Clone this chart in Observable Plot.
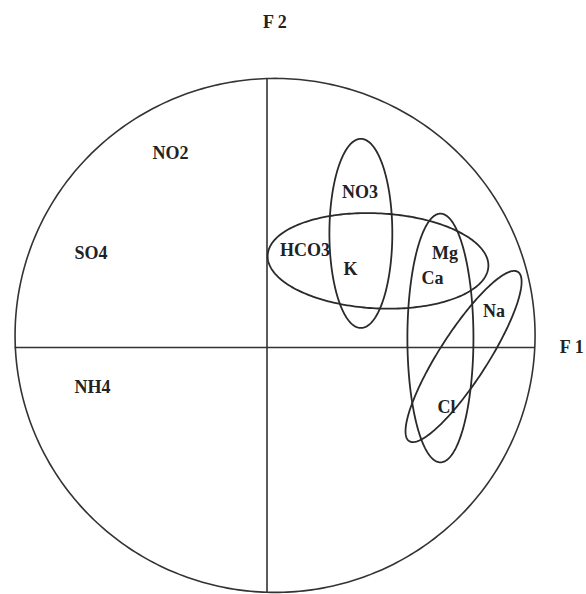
<!DOCTYPE html>
<html>
<head>
<meta charset="utf-8">
<script src="https://cdn.jsdelivr.net/npm/d3@7"></script>
<script src="https://cdn.jsdelivr.net/npm/@observablehq/plot@0.6"></script>
<style>
  html, body { margin: 0; padding: 0; background: #fff; }
</style>
</head>
<body>
<div id="chart"></div>
<script>
// Variable labels and their positions on the F1 / F2 plane (correlation circle units)
const labels = ["NO2", "SO4", "NH4", "NO3", "HCO3", "K", "Mg", "Ca", "Na", "Cl"];
const f1 = [-0.371, -0.677, -0.671, 0.358, 0.146, 0.321, 0.685, 0.637, 0.873, 0.690];
const f2 = [0.755, 0.366, -0.156, 0.603, 0.377, 0.304, 0.366, 0.268, 0.140, -0.233];

// Groupings drawn as ellipses: centre, semi-axes, rotation (degrees)
const groupNames = ["NO3-K", "HCO3-K-Mg-Ca", "Mg-Ca-Cl", "Na-Cl"];
const groupCx = [0.361, 0.427, 0.667, 0.756];
const groupCy = [0.444, 0.337, 0.037, -0.035];
const groupRa = [0.121, 0.425, 0.127, 0.390];
const groupRb = [0.368, 0.185, 0.484, 0.093];
const groupAngle = [0, -3, 0, 57.6];

// Correlation circle (scan is slightly off-centre from the axes)
const circleCx = 0.031, circleCy = 0.047, circleRx = 1.0, circleRy = 1.0;

// Axis names
const axisNames = ["F 1", "F 2"];

function ellipsePoints(id, cx, cy, a, b, deg, n = 240) {
  const t = deg * Math.PI / 180, pts = [];
  for (let i = 0; i <= n; i++) {
    const u = 2 * Math.PI * i / n;
    const ex = a * Math.cos(u), ey = b * Math.sin(u);
    pts.push({id, x: cx + ex * Math.cos(t) - ey * Math.sin(t), y: cy + ex * Math.sin(t) + ey * Math.cos(t)});
  }
  return pts;
}

const circle = ellipsePoints("circle", circleCx, circleCy, circleRx, circleRy, 0, 400);
const groups = groupNames.flatMap((g, i) =>
  ellipsePoints(g, groupCx[i], groupCy[i], groupRa[i], groupRb[i], groupAngle[i]));
const labelData = labels.map((l, i) => ({label: l, x: f1[i], y: f2[i]}));

const xLeft = circleCx - circleRx, xRight = circleCx + circleRx;
const yTop = circleCy + circleRy, yBottom = circleCy - circleRy;

const font = "Liberation Serif, Times New Roman, serif";

const chart = Plot.plot({
  width: 586,
  height: 594,
  margin: 0,
  x: {domain: [-266.5 / 260, (586 - 266.5) / 260], axis: null},
  y: {domain: [(347 - 594) / 257, 347 / 257], axis: null},
  marks: [
    Plot.line(circle, {x: "x", y: "y", z: "id", stroke: "#333", strokeWidth: 1.6}),
    Plot.ruleY([0], {x1: xLeft, x2: xRight, stroke: "#333", strokeWidth: 1.6}),
    Plot.ruleX([0], {y1: yBottom, y2: yTop, stroke: "#333", strokeWidth: 1.6}),
    Plot.line(groups, {x: "x", y: "y", z: "id", stroke: "#2a2a2a", strokeWidth: 1.8}),
    Plot.text(labelData, {x: "x", y: "y", text: "label", fontFamily: font, fontWeight: "bold", fontSize: 18, fill: "#222"}),
    Plot.text([axisNames[1]], {x: 0.03, y: 1.265, text: d => d, fontFamily: font, fontWeight: "bold", fontSize: 18, fill: "#222"}),
    Plot.text([axisNames[0]], {x: 1.218, y: 0, text: d => d, textAnchor: "end", fontFamily: font, fontWeight: "bold", fontSize: 18, fill: "#222"})
  ]
});
document.getElementById("chart").appendChild(chart);
</script>
</body>
</html>
